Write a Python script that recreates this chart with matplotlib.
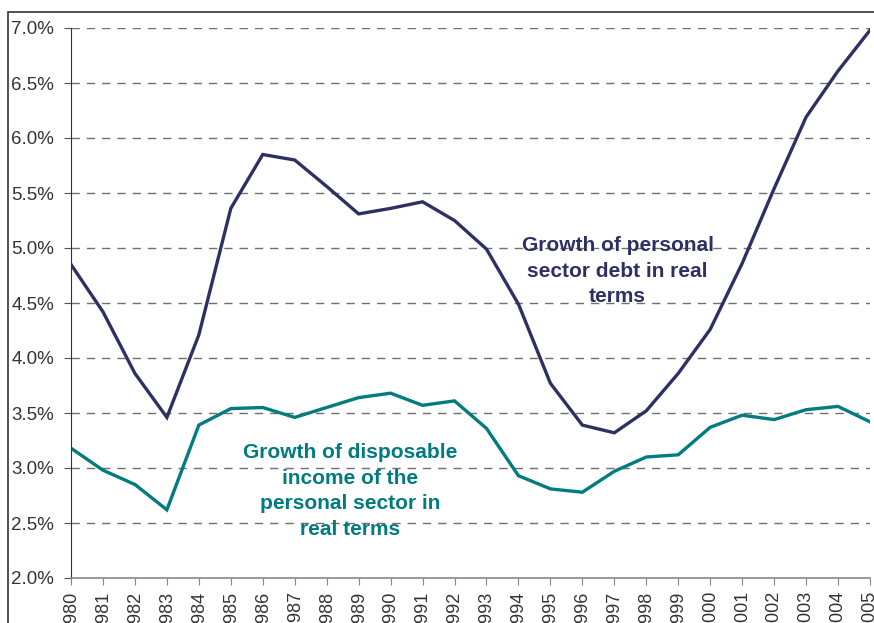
import matplotlib.pyplot as plt
from matplotlib.patches import Rectangle
from matplotlib.ticker import FuncFormatter

plt.rcParams['font.family'] = ['Liberation Sans', 'DejaVu Sans']

years = list(range(1980, 2006))
debt_growth = [4.85, 4.42, 3.86, 3.46, 4.21, 5.36, 5.85, 5.80, 5.56, 5.31, 5.36, 5.42, 5.25,
               4.99, 4.49, 3.77, 3.39, 3.32, 3.52, 3.86, 4.26, 4.86, 5.54, 6.19, 6.61, 6.98]
income_growth = [3.18, 2.98, 2.85, 2.62, 3.39, 3.54, 3.55, 3.46, 3.55, 3.64, 3.68, 3.57, 3.61,
                 3.36, 2.93, 2.81, 2.78, 2.97, 3.10, 3.12, 3.37, 3.48, 3.44, 3.53, 3.56, 3.42]
yticks = [2.0, 2.5, 3.0, 3.5, 4.0, 4.5, 5.0, 5.5, 6.0, 6.5, 7.0]

navy = '#2e3063'
teal = '#007b7f'

fig = plt.figure(figsize=(8.74, 6.23), dpi=100)
ax = fig.add_axes([71 / 874, 1 - 578 / 623, 799 / 874, 550 / 623])

ax.plot(years, debt_growth, color=navy, lw=2.4, solid_joinstyle='miter')
ax.plot(years, income_growth, color=teal, lw=2.4, solid_joinstyle='miter')

ax.set_xlim(1980, 2005)
ax.set_ylim(2.0, 7.0)
ax.set_xticks(years)
ax.set_xticklabels([str(y) for y in years], rotation=90, fontsize=13, color='#333333')
ax.set_yticks(yticks)
ax.yaxis.set_major_formatter(FuncFormatter(lambda v, p: '%.1f%%' % v))
ax.tick_params(axis='y', labelsize=13.5, labelcolor='#333333', length=5, color='#555555', pad=7)
ax.tick_params(axis='x', length=5, color='#888888', pad=4)

for t in yticks[1:]:
    ax.axhline(t, color='#707070', lw=1, ls=(0, (6, 5)), zorder=0)

ax.spines['top'].set_visible(False)
ax.spines['right'].set_visible(False)
ax.spines['left'].set_color('#333333')
ax.spines['bottom'].set_color('#888888')
ax.spines['bottom'].set_linewidth(1.2)

ax.text(1997.1, 4.79, 'Growth of personal\nsector debt in real\nterms', color=navy,
        fontsize=15, fontweight='bold', ha='center', va='center', linespacing=1.45)
ax.text(1988.73, 2.79, 'Growth of disposable\nincome of the\npersonal sector in\nreal terms', color=teal,
        fontsize=15, fontweight='bold', ha='center', va='center', linespacing=1.45)

# frame around the picture
fig.patches.append(Rectangle((8 / 874, -0.1), 1.2, 1 - 12 / 623 + 0.1, transform=fig.transFigure,
                             fill=False, edgecolor='#333333', lw=1.2))

fig.savefig('out.png', dpi=100)
